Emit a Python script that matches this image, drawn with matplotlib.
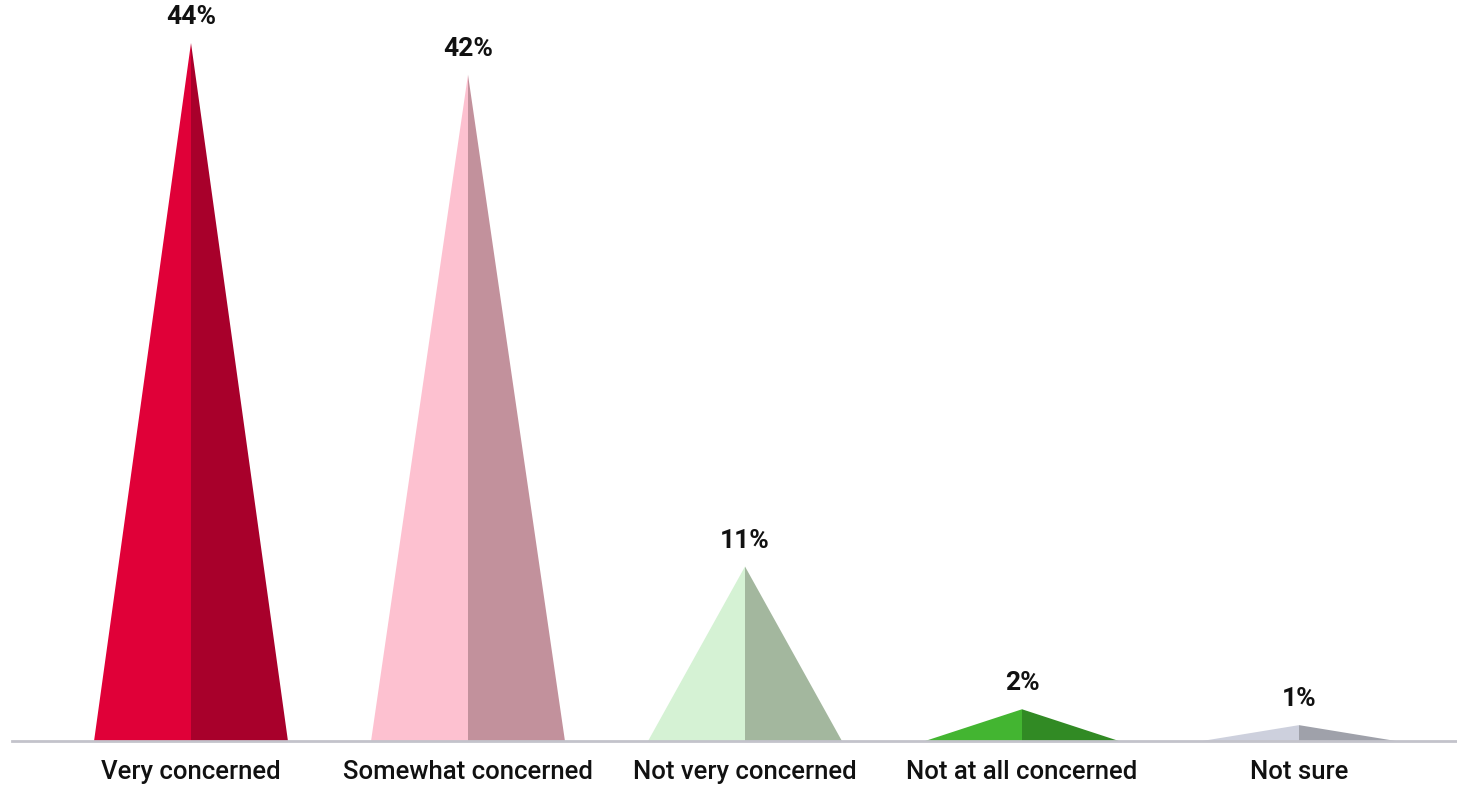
import matplotlib.pyplot as plt
from matplotlib.patches import Polygon

categories = ['Very concerned', 'Somewhat concerned', 'Not very concerned',
              'Not at all concerned', 'Not sure']
values = [44, 42, 11, 2, 1]
left_colors = ['#e00038', '#fdc1d0', '#d5f2d4', '#43b531', '#cdd0dd']
right_colors = ['#a8002b', '#c2919c', '#a3b79e', '#318a24', '#9fa1aa']

plt.rcParams['font.family'] = ['Roboto', 'DejaVu Sans']

fig = plt.figure(figsize=(14.57, 7.86), dpi=100)
W, H = 1457, 786
# axes in pixel terms: left 12, right 1457, baseline 741, top at 44% peak (43)
ax = fig.add_axes([12 / W, (H - 741) / H, (1457 - 12) / W, (741 - 43) / H])

spacing = 277
x0 = 191
ax.set_xlim((12 - x0) / spacing, (1457 - x0) / spacing)
ax.set_ylim(0, 44)

half = 0.35
for i, (cat, v) in enumerate(zip(categories, values)):
    ax.add_patch(Polygon([(i - half, 0), (i, v), (i, 0)], closed=True,
                         facecolor=left_colors[i], edgecolor='none'))
    ax.add_patch(Polygon([(i, 0), (i, v), (i + half, 0)], closed=True,
                         facecolor=right_colors[i], edgecolor='none'))
    ax.annotate(f'{v}%', (i, v), xytext=(0, 10), textcoords='offset points',
                ha='center', va='bottom', fontsize=19, fontweight='bold',
                color='#111111', annotation_clip=False)

ax.set_xticks(range(len(categories)))
ax.set_xticklabels(categories, fontsize=18.5, fontweight='medium',
                   color='#111111')
ax.tick_params(axis='x', length=0, pad=14)
ax.set_yticks([])

for s in ['top', 'right', 'left']:
    ax.spines[s].set_visible(False)
ax.spines['bottom'].set_color('#c3c3cb')
ax.spines['bottom'].set_linewidth(2)

fig.savefig('out.png', dpi=100)
